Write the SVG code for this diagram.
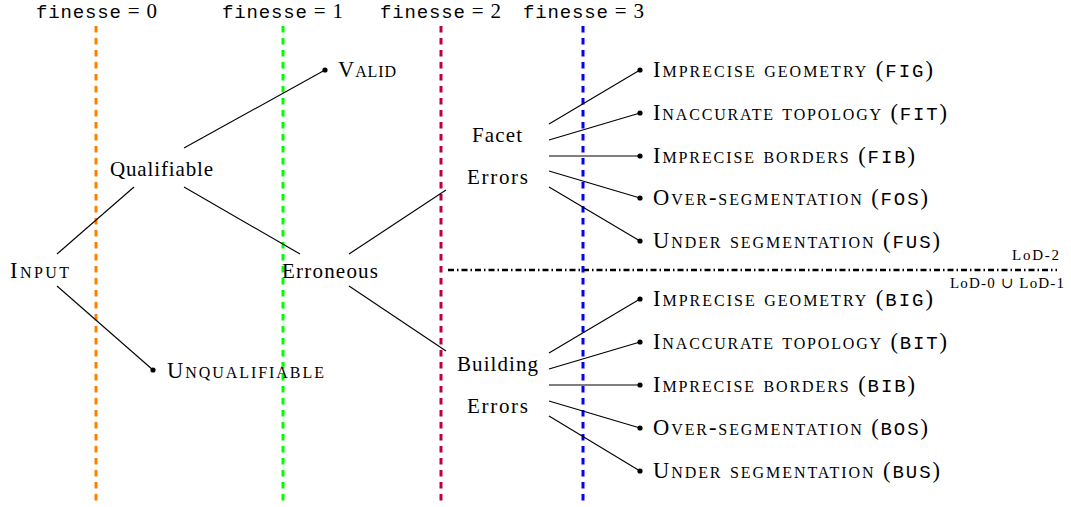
<svg xmlns="http://www.w3.org/2000/svg" width="1071" height="507" viewBox="0 0 1071 507">
<style>
.rm{font-family:"Liberation Serif","DejaVu Serif",serif;font-size:21px;fill:#000}
.sc{font-variant:small-caps;font-size:22.5px}
.tt{font-family:"Liberation Mono","DejaVu Sans Mono",monospace;font-size:19px}
.sm{font-family:"Liberation Serif","DejaVu Serif",serif;font-size:15px;fill:#000}
.vl{stroke-width:3;stroke-dasharray:6.5 5.5;fill:none}
.ln{stroke:#000;stroke-width:1.1;fill:none}
.dot{fill:#000}
</style>
<rect width="1071" height="507" fill="#fff"/>
<g id="finesse-lines">
<line class="vl" x1="96" y1="26" x2="96" y2="504" stroke="#FF8000"/>
<line class="vl" x1="283" y1="26" x2="283" y2="504" stroke="#00FF00"/>
<line class="vl" x1="441" y1="26" x2="441" y2="504" stroke="#BF0040"/>
<line class="vl" x1="583" y1="26" x2="583" y2="504" stroke="#0000FF"/>
</g>
<g id="finesse-labels">
<text class="rm" x="36" y="18" textLength="121"><tspan class="tt">finesse</tspan> = 0</text>
<text class="rm" x="222" y="18" textLength="121"><tspan class="tt">finesse</tspan> = 1</text>
<text class="rm" x="380" y="18" textLength="121"><tspan class="tt">finesse</tspan> = 2</text>
<text class="rm" x="523" y="18" textLength="121"><tspan class="tt">finesse</tspan> = 3</text>
</g>
<g id="lod-separator">
<line x1="448" y1="270" x2="1057" y2="270" stroke="#000" stroke-width="2.4" stroke-dasharray="6 3 1.5 3"/>
<text class="sm" x="1012" y="260" textLength="47">LoD-2</text>
<text class="sm" x="950" y="288" textLength="114">LoD-0 ∪ LoD-1</text>
</g>
<g id="connectors">
<line class="ln" x1="57" y1="254" x2="134" y2="187"/>
<line class="ln" x1="57" y1="286" x2="153" y2="370"/>
<line class="ln" x1="184" y1="148" x2="325" y2="70"/>
<line class="ln" x1="184" y1="187" x2="300" y2="254"/>
<line class="ln" x1="349" y1="254" x2="446" y2="190"/>
<line class="ln" x1="349" y1="286" x2="446" y2="351"/>
<line class="ln" x1="549" y1="124" x2="640" y2="70"/>
<line class="ln" x1="549" y1="140" x2="640" y2="113"/>
<line class="ln" x1="549" y1="156" x2="640" y2="156"/>
<line class="ln" x1="549" y1="171" x2="640" y2="198"/>
<line class="ln" x1="549" y1="187" x2="640" y2="241"/>
<line class="ln" x1="549" y1="353" x2="640" y2="299"/>
<line class="ln" x1="549" y1="369" x2="640" y2="342"/>
<line class="ln" x1="549" y1="385" x2="640" y2="385"/>
<line class="ln" x1="549" y1="401" x2="640" y2="428"/>
<line class="ln" x1="549" y1="416" x2="640" y2="471"/>
</g>
<g id="input"><text class="rm sc" x="10" y="278" textLength="59">Input</text></g>
<g id="qualifiable"><text class="rm" x="110" y="176" textLength="103">Qualifiable</text></g>
<g id="unqualifiable"><circle class="dot" cx="153" cy="370" r="2.6"/><text class="rm sc" x="167" y="378" textLength="157">Unqualifiable</text></g>
<g id="valid"><circle class="dot" cx="325" cy="70" r="2.6"/><text class="rm sc" x="338" y="77" textLength="58">Valid</text></g>
<g id="erroneous"><text class="rm" x="282" y="278" textLength="96">Erroneous</text></g>
<g id="facet-errors"><text class="rm" x="472" y="142" textLength="50">Facet</text><text class="rm" x="467" y="184" textLength="61">Errors</text></g>
<g id="building-errors"><text class="rm" x="457" y="371" textLength="81">Building</text><text class="rm" x="467" y="413" textLength="61">Errors</text></g>
<g id="fig"><circle class="dot" cx="640" cy="70" r="2.6"/><text class="rm sc" x="653" y="77" textLength="280">Imprecise geometry (<tspan class="tt">FIG</tspan>)</text></g>
<g id="fit"><circle class="dot" cx="640" cy="113" r="2.6"/><text class="rm sc" x="653" y="120" textLength="294">Inaccurate topology (<tspan class="tt">FIT</tspan>)</text></g>
<g id="fib"><circle class="dot" cx="640" cy="156" r="2.6"/><text class="rm sc" x="653" y="163" textLength="262">Imprecise borders (<tspan class="tt">FIB</tspan>)</text></g>
<g id="fos"><circle class="dot" cx="640" cy="198" r="2.6"/><text class="rm sc" x="653" y="205" textLength="275">Over-segmentation (<tspan class="tt">FOS</tspan>)</text></g>
<g id="fus"><circle class="dot" cx="640" cy="241" r="2.6"/><text class="rm sc" x="653" y="248" textLength="287">Under segmentation (<tspan class="tt">FUS</tspan>)</text></g>
<g id="big"><circle class="dot" cx="640" cy="299" r="2.6"/><text class="rm sc" x="653" y="306" textLength="280">Imprecise geometry (<tspan class="tt">BIG</tspan>)</text></g>
<g id="bit"><circle class="dot" cx="640" cy="342" r="2.6"/><text class="rm sc" x="653" y="349" textLength="294">Inaccurate topology (<tspan class="tt">BIT</tspan>)</text></g>
<g id="bib"><circle class="dot" cx="640" cy="385" r="2.6"/><text class="rm sc" x="653" y="392" textLength="262">Imprecise borders (<tspan class="tt">BIB</tspan>)</text></g>
<g id="bos"><circle class="dot" cx="640" cy="428" r="2.6"/><text class="rm sc" x="653" y="435" textLength="275">Over-segmentation (<tspan class="tt">BOS</tspan>)</text></g>
<g id="bus"><circle class="dot" cx="640" cy="471" r="2.6"/><text class="rm sc" x="653" y="478" textLength="287">Under segmentation (<tspan class="tt">BUS</tspan>)</text></g>
</svg>
